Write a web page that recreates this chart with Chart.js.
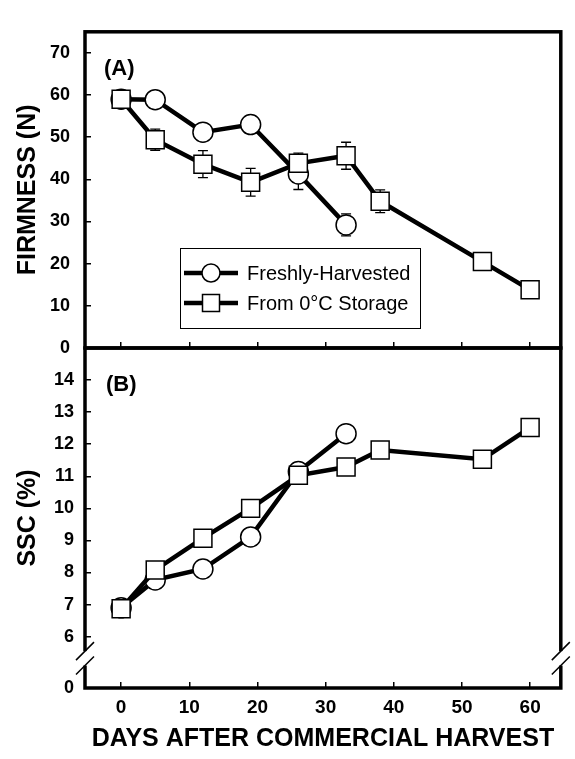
<!DOCTYPE html>
<html><head><meta charset="utf-8">
<script src="https://cdn.jsdelivr.net/npm/chart.js@4.4.1/dist/chart.umd.min.js"></script>
<style>
html,body{margin:0;padding:0;background:#fff;}
#wrap{position:relative;width:575px;height:759px;background:#fff;overflow:hidden;}
canvas{position:absolute;left:0;top:0;}
</style></head><body>
<div id="wrap"><canvas id="cB" width="575" height="759"></canvas><canvas id="cA" width="575" height="759"></canvas></div>
<script>
// ---- data ----
const daysFresh = [0, 5, 12, 19, 26, 33];
const daysStored = [0, 5, 12, 19, 26, 33, 38, 53, 60];
const firmFresh = [59, 58.9, 51.2, 53, 41.3, 29.2];
const firmFreshErr = [null, null, null, null, 3.7, 2.6];
const firmStored = [59, 49.4, 43.6, 39.3, 43.8, 45.6, 34.8, 20.5, 13.8];
const firmStoredErr = [null, 2.5, 3.2, 3.3, 2.4, 3.2, 2.7, null, null];
const sscFresh = [6.9, 7.77, 8.11, 9.11, 11.15, 12.33];
const sscStored = [6.87, 8.08, 9.07, 10.0, 11.03, 11.29, 11.82, 11.53, 12.52];
const xTicks = [0, 10, 20, 30, 40, 50, 60];
const firmTicks = [0, 10, 20, 30, 40, 50, 60, 70];
const sscTicks = [6, 7, 8, 9, 10, 11, 12, 13, 14];
const sscBreakTickLabel = '0';
const seriesLabels = ['Freshly-Harvested', 'From 0°C Storage'];
const panelLabels = ['(A)', '(B)'];
const axisTitles = ['FIRMNESS (N)', 'SSC (%)', 'DAYS AFTER COMMERCIAL HARVEST'];

// ---- styling ----
const FONT = "'Liberation Sans', Arial, Helvetica, sans-serif";
Chart.defaults.font.family = FONT;
Chart.defaults.color = '#000';
const X_MIN = -5.3, X_MAX = 64.5;
const SSC_MIN = 4.4;
const AXIS_W = 85, RIGHT_PAD = 11;

function pts(xs, ys) { return xs.map((x, i) => ({ x: x, y: ys[i] })); }

function ds(label, xs, ys, errs, style, order) {
  return {
    label: label, data: pts(xs, ys), errors: errs || null,
    borderColor: '#000', borderWidth: 4.5, backgroundColor: '#fff',
    pointStyle: style, pointRadius: style === 'circle' ? 10 : 12.7,
    pointBorderWidth: 1.5, pointBorderColor: '#000', pointBackgroundColor: '#fff',
    pointHoverRadius: style === 'circle' ? 10 : 12.7,
    tension: 0, fill: false, order: order
  };
}

const errorBars = {
  id: 'errorBars',
  beforeDatasetsDraw(chart) {
    const ctx = chart.ctx, ys = chart.scales.y;
    ctx.save();
    ctx.strokeStyle = '#000'; ctx.lineWidth = 1.3;
    chart.data.datasets.forEach((d, di) => {
      if (!d.errors) return;
      const meta = chart.getDatasetMeta(di);
      d.errors.forEach((e, i) => {
        if (e == null) return;
        const el = meta.data[i];
        const v = d.data[i].y;
        const yt = ys.getPixelForValue(v + e), yb = ys.getPixelForValue(v - e);
        ctx.beginPath();
        ctx.moveTo(el.x, yt); ctx.lineTo(el.x, yb);
        ctx.moveTo(el.x - 5, yt); ctx.lineTo(el.x + 5, yt);
        ctx.moveTo(el.x - 5, yb); ctx.lineTo(el.x + 5, yb);
        ctx.stroke();
      });
    });
    ctx.restore();
  }
};

const frame = {
  id: 'frame',
  afterDraw(chart, args, opts) {
    const a = chart.chartArea, ctx = chart.ctx;
    ctx.save();
    ctx.strokeStyle = '#000'; ctx.lineWidth = 3.5;
    ctx.strokeRect(a.left, a.top, a.right - a.left, a.bottom - a.top);
    // panel label
    ctx.fillStyle = '#000';
    ctx.font = 'bold 22px ' + FONT;
    ctx.textBaseline = 'middle'; ctx.textAlign = 'left';
    ctx.fillText(opts.label, a.left + opts.dx, a.top + 37);
    if (opts.broken) {
      const ys = chart.scales.y;
      const t = ys.getPixelForValue(5.55), b = ys.getPixelForValue(5.1);
      [a.left, a.right].forEach(x => {
        ctx.fillStyle = '#fff';
        ctx.fillRect(x - 4, t, 8, b - t);
        ctx.strokeStyle = '#000'; ctx.lineWidth = 1.5;
        ctx.beginPath();
        ctx.moveTo(x - 9, t + 9); ctx.lineTo(x + 9, t - 9);
        ctx.moveTo(x - 9, b + 9); ctx.lineTo(x + 9, b - 9);
        ctx.stroke();
      });
    }
    ctx.restore();
  }
};

const boxLegend = {
  id: 'boxLegend',
  afterDraw(chart) {
    const ctx = chart.ctx;
    const bx = 180.5, by = 248.5, bw = 240, bh = 80;
    ctx.save();
    ctx.strokeStyle = '#000'; ctx.lineWidth = 1;
    ctx.strokeRect(bx, by, bw, bh);
    const items = [chart.data.datasets[0], chart.data.datasets[1]];
    items.forEach((d, i) => {
      const y = 273 + i * 30;
      ctx.strokeStyle = '#000'; ctx.lineWidth = 4.5;
      ctx.beginPath(); ctx.moveTo(184, y); ctx.lineTo(238, y); ctx.stroke();
      ctx.fillStyle = '#fff'; ctx.lineWidth = 1.5;
      ctx.beginPath();
      if (d.pointStyle === 'circle') ctx.arc(211, y, 9, 0, Math.PI * 2);
      else ctx.rect(211 - 8.5, y - 8.5, 17, 17);
      ctx.fill(); ctx.stroke();
      ctx.fillStyle = '#000';
      ctx.font = '20px ' + FONT;
      ctx.textBaseline = 'middle'; ctx.textAlign = 'left';
      ctx.fillText(d.label, 247, y + 1);
    });
    ctx.restore();
  }
};

function gridOpts(hideAt) {
  return {
    display: true, drawOnChartArea: false, drawTicks: true, tickLength: -6,
    lineWidth: 1.5,
    color: c => (hideAt !== undefined && c.tick && c.tick.value === hideAt) ? 'rgba(0,0,0,0)' : '#000'
  };
}

// ---- Panel A ----
new Chart(document.getElementById('cA'), {
  type: 'line',
  data: { datasets: [
    ds(seriesLabels[0], daysFresh, firmFresh, firmFreshErr, 'circle', 1),
    ds(seriesLabels[1], daysStored, firmStored, firmStoredErr, 'rect', 0)
  ]},
  options: {
    responsive: false, animation: false, events: [],
    layout: { padding: { left: 0, top: 15, right: RIGHT_PAD, bottom: 411 } },
    plugins: { legend: { display: false }, tooltip: { enabled: false },
      frame: { label: panelLabels[0], dx: 19, broken: false } },
    scales: {
      x: { type: 'linear', min: X_MIN, max: X_MAX,
        afterBuildTicks: s => { s.ticks = xTicks.map(v => ({ value: v })); },
        ticks: { display: false }, grid: gridOpts(), border: { display: false },
        afterFit: s => { s.height = 0; } },
      y: { type: 'linear', min: 0, max: 75,
        afterBuildTicks: s => { s.ticks = firmTicks.map(v => ({ value: v })); },
        ticks: { font: { size: 18, weight: 'bold' }, padding: 21, color: '#000' },
        grid: gridOpts(), border: { display: false },
        title: { display: true, text: axisTitles[0], font: { size: 25, weight: 'bold', lineHeight: 1.2 }, padding: { top: 13, bottom: 0 }, color: '#000' },
        afterFit: s => { s.width = AXIS_W; } }
    }
  },
  plugins: [errorBars, frame, boxLegend]
});

// ---- Panel B ----
new Chart(document.getElementById('cB'), {
  type: 'line',
  data: { datasets: [
    ds(seriesLabels[0], daysFresh, sscFresh, null, 'circle', 1),
    ds(seriesLabels[1], daysStored, sscStored, null, 'rect', 0)
  ]},
  options: {
    responsive: false, animation: false, events: [],
    layout: { padding: { left: 0, top: 348, right: RIGHT_PAD, bottom: 0 } },
    plugins: { legend: { display: false }, tooltip: { enabled: false },
      frame: { label: panelLabels[1], dx: 21, broken: true } },
    scales: {
      x: { type: 'linear', min: X_MIN, max: X_MAX,
        afterBuildTicks: s => { s.ticks = xTicks.map(v => ({ value: v })); },
        ticks: { font: { size: 19, weight: 'bold', lineHeight: 1.2 }, padding: 14.6, color: '#000', maxRotation: 0 },
        grid: gridOpts(), border: { display: false },
        title: { display: true, text: axisTitles[2], font: { size: 25, weight: 'bold', lineHeight: 1.2 }, padding: { top: 0, bottom: 5 }, color: '#000' },
        afterFit: s => { s.height = 71; } },
      y: { type: 'linear', min: SSC_MIN, max: 15,
        afterBuildTicks: s => { s.ticks = [SSC_MIN].concat(sscTicks).map(v => ({ value: v })); },
        ticks: { font: { size: 18, weight: 'bold' }, padding: 17, color: '#000',
          callback: v => v === SSC_MIN ? sscBreakTickLabel : String(v) },
        grid: gridOpts(SSC_MIN), border: { display: false },
        title: { display: true, text: axisTitles[1], font: { size: 25, weight: 'bold', lineHeight: 1.2 }, padding: { top: 13, bottom: 0 }, color: '#000' },
        afterFit: s => { s.width = AXIS_W; } }
    }
  },
  plugins: [errorBars, frame]
});
</script>
</body></html>
